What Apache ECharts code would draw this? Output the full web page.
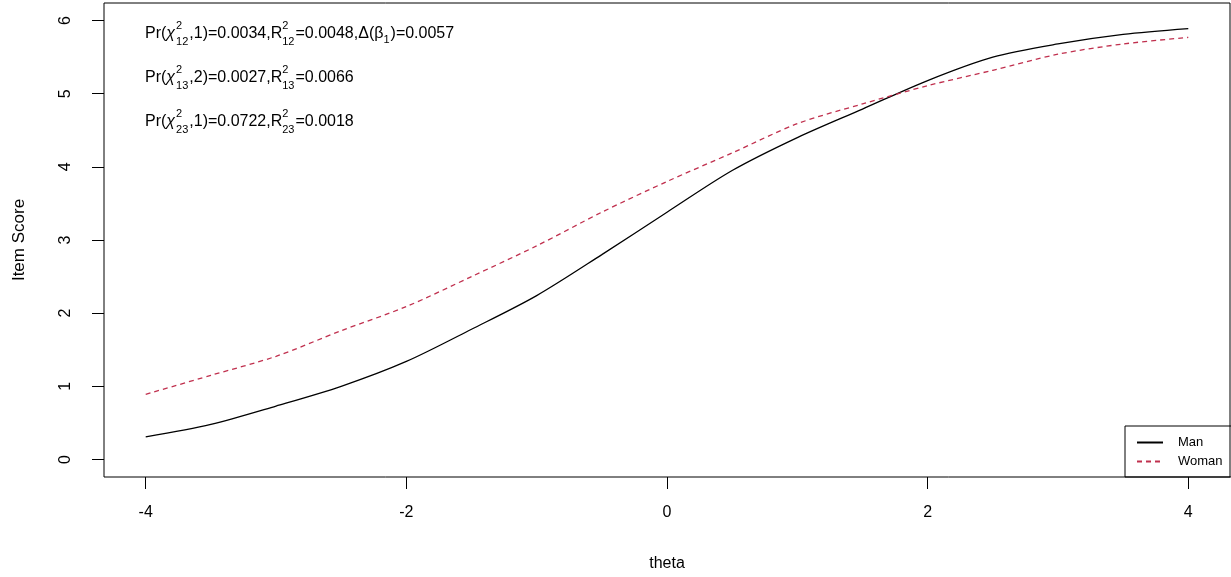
<!DOCTYPE html>
<html><head><meta charset="utf-8">
<script src="https://cdn.jsdelivr.net/npm/echarts@6/dist/echarts.min.js"></script>
<style>html,body{margin:0;padding:0;background:#fff}#c{width:1231px;height:577px}</style>
</head><body><div id="c"></div>
<script>
// ---- data ----
const theta = [-4, -3.5, -3, -2.5, -2, -1.5, -1, -0.5, 0, 0.5, 1, 1.5, 2, 2.5, 3, 3.5, 4];
const manScore = [0.31, 0.48, 0.73, 1.00, 1.34, 1.78, 2.24, 2.80, 3.38, 3.95, 4.40, 4.79, 5.18, 5.50, 5.68, 5.81, 5.89];
const womanScore = [0.89, 1.15, 1.41, 1.76, 2.09, 2.50, 2.92, 3.38, 3.80, 4.19, 4.59, 4.86, 5.11, 5.32, 5.54, 5.68, 5.77];
const xTicks = [-4, -2, 0, 2, 4];
const yTicks = [0, 1, 2, 3, 4, 5, 6];
const seriesNames = ['Man', 'Woman'];
const xTitle = 'theta';
const yTitle = 'Item Score';
// annotation text: n = normal, i = italic, ss = [sup, sub] stacked, sub = subscript
const statLine1 = [['n','Pr('],['i','χ'],['ss','2','12'],['n',',1)=0.0034,R'],['ss','2','12'],['n','=0.0048,Δ(β'],['sub','1'],['n',')=0.0057']];
const statLine2 = [['n','Pr('],['i','χ'],['ss','2','13'],['n',',2)=0.0027,R'],['ss','2','13'],['n','=0.0066']];
const statLine3 = [['n','Pr('],['i','χ'],['ss','2','23'],['n',',1)=0.0722,R'],['ss','2','23'],['n','=0.0018']];

// ---- layout helpers ----
const FAM = '"Liberation Sans", Arial, sans-serif';
const mainFont = '16px ' + FAM;
const italFont = 'italic 16px ' + FAM;
const smallFont = '11px ' + FAM;
const cv = document.createElement('canvas').getContext('2d');
function tw(t, f) { cv.font = f; return cv.measureText(t).width; }
function txt(t, x, y, f) {
  return { type: 'text', x: x, y: y, silent: true,
    style: { text: t, font: f, fill: '#000', align: 'left', verticalAlign: 'middle' } };
}
function layoutLine(segs, x0, yc) {
  const out = []; let x = x0;
  segs.forEach(s => {
    if (s[0] === 'n' || s[0] === 'i') {
      const f = s[0] === 'n' ? mainFont : italFont;
      out.push(txt(s[1], x, yc, f)); x += tw(s[1], f) + (s[0] === 'i' ? 1 : 0);
    } else if (s[0] === 'ss') {
      out.push(txt(s[1], x, yc - 8, smallFont));
      out.push(txt(s[2], x, yc + 8, smallFont));
      x += Math.max(tw(s[1], smallFont), tw(s[2], smallFont)) + 1;
    } else if (s[0] === 'sub') {
      out.push(txt(s[1], x, yc + 6, smallFont)); x += tw(s[1], smallFont) + 1;
    }
  });
  return out;
}
const graphics = [].concat(
  layoutLine(statLine1, 145, 34),
  layoutLine(statLine2, 145, 78),
  layoutLine(statLine3, 145, 122)
);

const chart = echarts.init(document.getElementById('c'), null, { renderer: 'canvas' });
const axisFont = { fontFamily: FAM, fontSize: 16, color: '#000' };
chart.setOption({
  animation: false,
  backgroundColor: '#fff',
  grid: { left: 104, right: 1, top: 3, bottom: 100, show: true, borderColor: '#000', borderWidth: 1, backgroundColor: 'transparent' },
  xAxis: {
    type: 'value', min: -4.32, max: 4.32,
    axisLine: { show: false, onZero: false },
    axisTick: { show: true, customValues: xTicks, length: 12, lineStyle: { color: '#000' } },
    axisLabel: { customValues: xTicks, margin: 28, ...axisFont },
    splitLine: { show: false },
    name: xTitle, nameLocation: 'middle', nameGap: 79, nameTextStyle: { ...axisFont }
  },
  yAxis: {
    type: 'value', min: -0.24, max: 6.24,
    axisLine: { show: false, onZero: false },
    axisTick: { show: true, customValues: yTicks, length: 12, lineStyle: { color: '#000' } },
    axisLabel: { customValues: yTicks, margin: 30, rotate: 90, ...axisFont },
    splitLine: { show: false },
    name: yTitle, nameLocation: 'middle', nameGap: 76, nameRotate: 90,
    nameTextStyle: { fontFamily: FAM, fontSize: 17, color: '#000' }
  },
  legend: {
    orient: 'vertical', left: 1125, top: 426,
    borderColor: '#000', borderWidth: 1, borderRadius: 0,
    padding: [10, 30, 9, 11], itemWidth: 26, itemHeight: 10, itemGap: 6,
    itemStyle: { opacity: 0 },
    textStyle: { fontFamily: FAM, fontSize: 13, color: '#000', padding: [0, 0, 0, 10] },
    data: seriesNames
  },
  series: [
    { name: seriesNames[0], type: 'line', smooth: 0.3, symbol: 'none',
      lineStyle: { color: '#000', width: 1.3, type: 'solid' }, itemStyle: { color: '#000' },
      data: theta.map((t, i) => [t, manScore[i]]) },
    { name: seriesNames[1], type: 'line', smooth: 0.3, symbol: 'none',
      lineStyle: { color: '#c0304e', width: 1.3, type: [5, 4] }, itemStyle: { color: '#c0304e' },
      data: theta.map((t, i) => [t, womanScore[i]]) }
  ],
  graphic: graphics
});
</script></body></html>
